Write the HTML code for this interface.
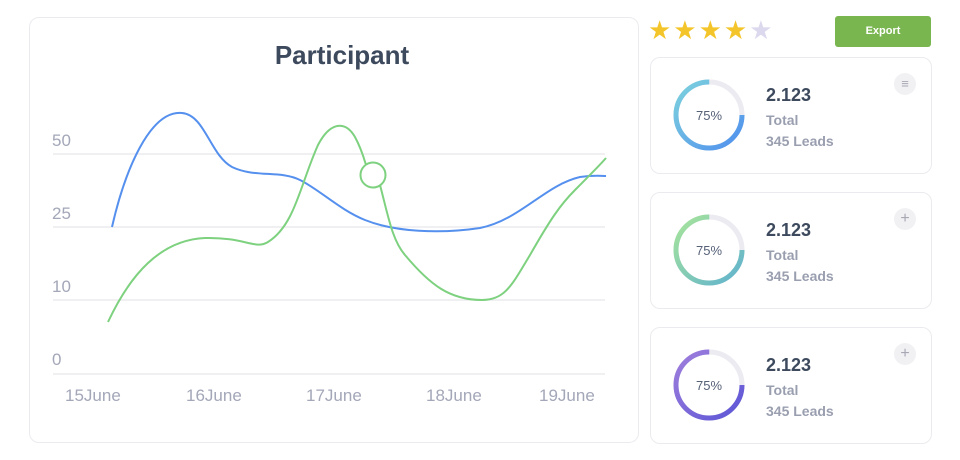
<!DOCTYPE html>
<html><head><style>
body{margin:0;width:960px;height:460px;background:#fff;font-family:"Liberation Sans",sans-serif;position:relative;overflow:hidden}
.card{position:absolute;border:1px solid #ebebef;border-radius:10px;background:#fff}
.num{position:absolute;left:115px;font-size:18px;font-weight:bold;color:#3d4a5e}
.sub{position:absolute;left:115px;font-size:14px;font-weight:bold;color:#9a9fb0;line-height:21px}
.btn{position:absolute;width:22px;height:22px;border-radius:50%;background:#f1f1f4;color:#a8a8b4;font-size:16px;text-align:center;line-height:22px}
</style></head><body>
<div class="card" style="left:29px;top:17px;width:608px;height:424px"></div>
<div style="position:absolute;left:29px;top:40px;width:684px;text-align:center;font-size:26px;font-weight:bold;color:#3d4a5e;width:684px;left:0">Participant</div>
<svg style="position:absolute;left:0;top:0" width="640" height="460">
<g stroke="#e6e6ea" stroke-width="1.2">
<line x1="53" y1="154" x2="605" y2="154"/><line x1="53" y1="227" x2="605" y2="227"/><line x1="53" y1="300" x2="605" y2="300"/><line x1="53" y1="374" x2="605" y2="374"/></g>
<g fill="#a3a7b8" font-size="17" font-family="Liberation Sans">
<text x="52" y="146">50</text><text x="52" y="219">25</text><text x="52" y="292">10</text><text x="52" y="365">0</text>
<text x="65" y="401">15June</text><text x="186" y="401">16June</text><text x="306" y="401">17June</text><text x="426" y="401">18June</text><text x="539" y="401">19June</text></g>
<path d="M112,227 C125,170 150,110 182,113 C205,115 210,155 232,167 C255,178 280,170 300,180 C320,190 340,210 365,220 C395,232 440,234 480,228 C520,220 545,185 580,177 C595,175 600,176 606,176" fill="none" stroke="#5590ee" stroke-width="2"/>
<path d="M108,322 C130,275 160,240 205,238 C245,237 255,250 268,242 C295,225 300,185 318,145 C330,122 345,120 355,137 C362,150 365,162 366,165" fill="none" stroke="#7dd17f" stroke-width="2"/>
<path d="M380,185 C388,215 392,240 405,255 C430,285 450,300 482,300 C505,300 512,285 530,255 C550,220 560,205 575,190 C590,175 600,165 606,158" fill="none" stroke="#7dd17f" stroke-width="2"/>
<circle cx="373" cy="175" r="12.5" fill="#fff" stroke="#7dd17f" stroke-width="2"/>
</svg>
<div style="position:absolute;left:648px;top:16px;font-size:26px;letter-spacing:2px;line-height:28px;color:#f3c52b">★★★★<span style="color:#dcd8ee">★</span></div>
<div style="position:absolute;left:835px;top:16px;width:96px;height:31px;background:#7ab650;border-radius:3px;color:#fff;font-size:11px;font-weight:bold;text-align:center;line-height:31px">Export</div>

<div class="card" style="left:650px;top:57px;width:280px;height:115px">
<svg style="position:absolute;left:21px;top:20px" width="74" height="74"><defs><linearGradient id="g1" x1="0" y1="0" x2="1" y2="1"><stop offset="0" stop-color="#7ed3dd"/><stop offset="1" stop-color="#4f8fee"/></linearGradient></defs><circle cx="37" cy="37" r="33" fill="none" stroke="#ebebf1" stroke-width="5"/><circle cx="37" cy="37" r="33" fill="none" stroke="url(#g1)" stroke-width="5" stroke-dasharray="155.5 207.3" transform="rotate(0 37 37)"/><text x="37" y="42" text-anchor="middle" font-size="13" fill="#566178">75%</text></svg>
<div class="num" style="top:27px">2.123</div><div class="sub" style="top:52px">Total<br>345 Leads</div><div class="btn" style="left:243px;top:15px;font-size:13px">≡</div></div>

<div class="card" style="left:650px;top:192px;width:280px;height:115px">
<svg style="position:absolute;left:21px;top:20px" width="74" height="74"><defs><linearGradient id="g2" x1="0" y1="0" x2="1" y2="1"><stop offset="0" stop-color="#a8e59a"/><stop offset="1" stop-color="#5fb2cf"/></linearGradient></defs><circle cx="37" cy="37" r="33" fill="none" stroke="#ebebf1" stroke-width="5"/><circle cx="37" cy="37" r="33" fill="none" stroke="url(#g2)" stroke-width="5" stroke-dasharray="155.5 207.3"/><text x="37" y="42" text-anchor="middle" font-size="13" fill="#566178">75%</text></svg>
<div class="num" style="top:27px">2.123</div><div class="sub" style="top:52px">Total<br>345 Leads</div><div class="btn" style="left:243px;top:15px">+</div></div>

<div class="card" style="left:650px;top:327px;width:280px;height:115px">
<svg style="position:absolute;left:21px;top:20px" width="74" height="74"><defs><linearGradient id="g3" x1="0" y1="0" x2="1" y2="1"><stop offset="0" stop-color="#a07fdc"/><stop offset="1" stop-color="#5b55d6"/></linearGradient></defs><circle cx="37" cy="37" r="33" fill="none" stroke="#ebebf1" stroke-width="5"/><circle cx="37" cy="37" r="33" fill="none" stroke="url(#g3)" stroke-width="5" stroke-dasharray="155.5 207.3"/><text x="37" y="42" text-anchor="middle" font-size="13" fill="#566178">75%</text></svg>
<div class="num" style="top:27px">2.123</div><div class="sub" style="top:52px">Total<br>345 Leads</div><div class="btn" style="left:243px;top:15px">+</div></div>
</body></html>
